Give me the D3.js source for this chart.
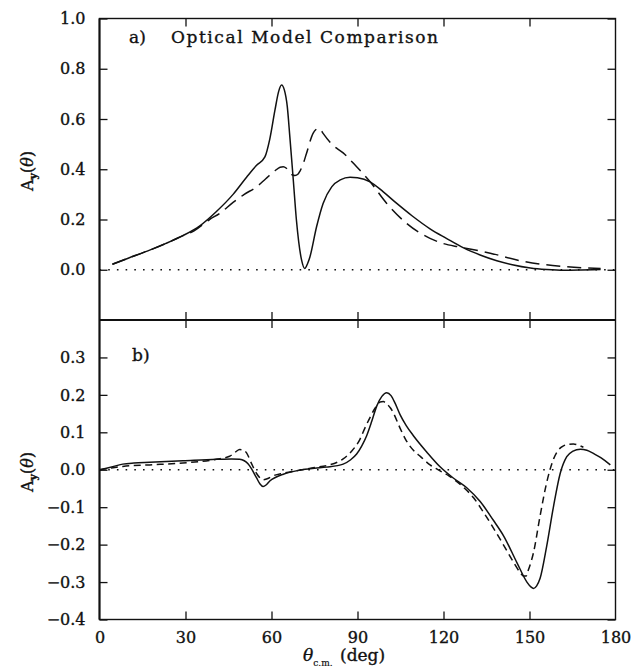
<!DOCTYPE html>
<html><head><meta charset="utf-8">
<script src="https://cdn.jsdelivr.net/npm/d3@7"></script>
<style>
html,body{margin:0;padding:0;background:#fff;}
svg text{font-family:"DejaVu Serif","Liberation Serif",serif;fill:#111;stroke:#111;stroke-width:0.35px;}
</style></head>
<body><svg id="c" width="635" height="669"></svg>
<script>
// ---------- data ----------
const xTicks = [0, 30, 60, 90, 120, 150, 180];
const topYTicks = [1.0, 0.8, 0.6, 0.4, 0.2, 0.0];
const botYTicks = [0.3, 0.2, 0.1, 0.0, -0.1, -0.2, -0.3, -0.4];

// panel a) solid
const aSolidTheta = [4.5,10,17.5,23,29.1,35,40.8,46.6,51.3,54.8,57.7,59.4,61.2,62.5,63.5,64.5,65.5,66.4,67.6,68.7,70.5,71.6,72.6,73.4,75.7,78,81,84,87.4,90,94.4,99,103.7,109,115.3,121,127,133,138.6,144,150.3,156,162,168,174.8];
const aSolidAy    = [0.022,0.046,0.078,0.104,0.136,0.175,0.232,0.3,0.368,0.416,0.449,0.52,0.635,0.71,0.735,0.715,0.65,0.529,0.357,0.197,0.038,0.005,0.025,0.051,0.17,0.264,0.33,0.358,0.368,0.366,0.35,0.31,0.264,0.215,0.163,0.125,0.087,0.058,0.036,0.02,0.007,0.001,-0.002,-0.001,0.001];
// panel a) dashed
const aDashTheta = [4.5,10,17.5,23,29.1,33,38.4,42,46.6,50.5,54.8,58,61.2,63,64.1,65.2,66.3,67.2,68.2,69.2,69.9,71,72.2,74.5,75.5,76.3,77.2,78,81,85,89.7,94.4,100.2,107.2,115.3,120,125.8,136.3,148,162,174.8];
const aDashAy    = [0.022,0.046,0.078,0.104,0.136,0.155,0.2,0.225,0.268,0.3,0.33,0.362,0.394,0.408,0.41,0.404,0.39,0.378,0.375,0.38,0.392,0.42,0.463,0.543,0.558,0.563,0.556,0.543,0.5,0.465,0.41,0.35,0.264,0.184,0.125,0.104,0.09,0.066,0.033,0.013,0.005];
// panel b) solid
const bSolidTheta = [0,3.5,8.1,12,17.5,29.1,40.8,46,48.9,50.5,51.8,53,54.8,56,57.1,58.2,59.4,61.5,64.1,69.9,75,79.2,85,87.5,89.7,91.5,93.2,95,96.7,98.5,100.2,101.7,103.1,104.8,107,109.5,114.2,118.8,123.4,128.1,132.8,137.4,141,145.6,149.1,150.5,151.4,152.5,153.7,156,158.4,160.7,163,165,167.8,170,172.4,175,178.2];
const bSolidAy    = [0,0.006,0.015,0.018,0.02,0.024,0.028,0.029,0.028,0.024,0.016,0.003,-0.022,-0.038,-0.045,-0.04,-0.03,-0.02,-0.012,-0.001,0.004,0.007,0.015,0.026,0.042,0.064,0.091,0.13,0.17,0.196,0.206,0.198,0.178,0.148,0.118,0.091,0.047,0.008,-0.022,-0.048,-0.085,-0.135,-0.177,-0.248,-0.3,-0.313,-0.317,-0.31,-0.29,-0.204,-0.097,-0.01,0.035,0.049,0.055,0.052,0.043,0.032,0.013];
// panel b) dashed
const bDashTheta = [0,3.5,8.1,17.5,29.1,40.8,45.4,47.5,48.9,50,51.3,53,54.8,56,57.1,58.5,60.6,64.1,69.9,75,79.2,85,88,90.9,92.5,94.4,96,97.9,99,100.2,101.5,102.5,104.8,107,109.5,112,115.3,118.8,122,127,130.5,134,139.8,144.5,146.5,148,148.8,149.5,151.4,153.7,156,158.4,160,161.9,163.5,165.3,167,168.8];
const bDashAy    = [0,0.004,0.009,0.013,0.018,0.028,0.036,0.048,0.054,0.053,0.045,0.017,-0.01,-0.022,-0.027,-0.024,-0.016,-0.009,-0.001,0.006,0.011,0.029,0.05,0.082,0.11,0.14,0.163,0.181,0.182,0.176,0.165,0.152,0.112,0.078,0.052,0.035,0.013,-0.003,-0.017,-0.047,-0.075,-0.114,-0.186,-0.248,-0.272,-0.284,-0.284,-0.27,-0.221,-0.123,-0.034,0.029,0.052,0.064,0.068,0.069,0.066,0.06];

// ---------- layout ----------
const svg = d3.select("#c");
const L = 99.5, R = 615.5, T = 18.5, M = 320, B = 619.5;
const x = d3.scaleLinear().domain([0,180]).range([L,R]);
const yA = d3.scaleLinear().domain([-0.2,1.0]).range([M,T]);
const yB = d3.scaleLinear().domain([-0.4,0.4]).range([B,M]);
const fmt = v => (v < 0 ? "\u2212" : "") + Math.abs(v).toFixed(1);
const stroke = "#111";

function styleAxis(g, showText){
  g.select(".domain").remove();
  g.selectAll(".tick line").attr("stroke",stroke).attr("stroke-width",1.3);
  g.selectAll(".tick text").style("font-size","16px").attr("fill","#111");
  if(!showText) g.selectAll(".tick text").remove();
}

// y axes panel a
svg.append("g").attr("transform",`translate(${L},0)`)
  .call(d3.axisLeft(yA).tickValues(topYTicks).tickSizeInner(-8).tickSizeOuter(0).tickPadding(14).tickFormat(fmt))
  .call(g=>styleAxis(g,true));
svg.append("g").attr("transform",`translate(${R},0)`)
  .call(d3.axisRight(yA).tickValues(topYTicks).tickSizeInner(-8).tickSizeOuter(0))
  .call(g=>styleAxis(g,false));
// y axes panel b
svg.append("g").attr("transform",`translate(${L},0)`)
  .call(d3.axisLeft(yB).tickValues(botYTicks).tickSizeInner(-8).tickSizeOuter(0).tickPadding(14).tickFormat(fmt))
  .call(g=>styleAxis(g,true));
svg.append("g").attr("transform",`translate(${R},0)`)
  .call(d3.axisRight(yB).tickValues(botYTicks).tickSizeInner(-8).tickSizeOuter(0))
  .call(g=>styleAxis(g,false));

// x axes
const inner = xTicks.slice(1,-1);
svg.append("g").attr("transform",`translate(0,${B})`)
  .call(d3.axisBottom(x).tickValues(xTicks).tickSizeInner(-8).tickSizeOuter(0).tickPadding(12).tickFormat(d3.format("d")))
  .call(g=>styleAxis(g,true))
  .call(g=>g.selectAll(".tick").filter(d=>d===0||d===180).select("line").remove());
svg.append("g").attr("transform",`translate(0,${T})`)
  .call(d3.axisTop(x).tickValues(inner).tickSizeInner(-8).tickSizeOuter(0))
  .call(g=>styleAxis(g,false));
svg.append("g").attr("transform",`translate(0,${M})`)
  .call(d3.axisBottom(x).tickValues(inner).tickSizeInner(8).tickSizeOuter(0))
  .call(g=>styleAxis(g,false));
svg.append("g").attr("transform",`translate(0,${M})`)
  .call(d3.axisTop(x).tickValues(inner).tickSizeInner(8).tickSizeOuter(0))
  .call(g=>styleAxis(g,false));

// frame
svg.append("rect").attr("x",L).attr("y",T).attr("width",R-L).attr("height",B-T)
  .attr("fill","none").attr("stroke",stroke).attr("stroke-width",1.4);
svg.append("line").attr("x1",L).attr("x2",L).attr("y1",T).attr("y2",B).attr("stroke",stroke).attr("stroke-width",2);
svg.append("line").attr("x1",L).attr("x2",R).attr("y1",M).attr("y2",M).attr("stroke",stroke).attr("stroke-width",2);

// zero lines (dotted)
[yA, yB].forEach(ys=>{
  svg.append("line").attr("x1",x(0)).attr("x2",x(180)).attr("y1",ys(0)).attr("y2",ys(0))
    .attr("stroke",stroke).attr("stroke-width",1.6).attr("stroke-dasharray","1.6,7.1");
});

// curves
function curve(thetas, vals, ys, dash){
  const pts = thetas.map((t,i)=>[t,vals[i]]);
  const line = d3.line().x(d=>x(d[0])).y(d=>ys(d[1])).curve(d3.curveMonotoneX);
  svg.append("path").datum(pts).attr("d",line).attr("fill","none")
    .attr("stroke",stroke).attr("stroke-width",1.5)
    .attr("stroke-dasharray",dash||null).attr("stroke-linejoin","round");
}
curve(aSolidTheta,aSolidAy,yA,null);
curve(aDashTheta,aDashAy,yA,"14,7");
curve(bSolidTheta,bSolidAy,yB,null);
curve(bDashTheta,bDashAy,yB,"7,4.5");

// panel labels
svg.append("text").attr("x",129).attr("y",43).style("font-size","17px").text("a)");
svg.append("text").attr("x",171).attr("y",43).style("font-size","17px")
  .attr("textLength",267).attr("lengthAdjust","spacing").text("Optical Model Comparison");
svg.append("text").attr("x",132).attr("y",361).style("font-size","17px").text("b)");

// y axis titles
function yTitle(cy){
  const t = svg.append("text").attr("transform",`translate(33,${cy}) rotate(-90)`)
    .attr("text-anchor","middle").style("font-size","16px");
  t.append("tspan").text("A");
  t.append("tspan").attr("dy",4).style("font-size","11px").style("font-weight","bold").text("y");
  t.append("tspan").attr("dy",-4).text("(");
  t.append("tspan").style("font-style","italic").text("\u03B8");
  t.append("tspan").text(")");
}
yTitle(171);
yTitle(472);

// x axis title
const xt = svg.append("text").attr("x",303).attr("y",661).style("font-size","17px");
xt.append("tspan").style("font-style","italic").text("\u03B8");
xt.append("tspan").attr("dy",5).style("font-size","9px").style("stroke-width","0.2px").text("c.m.");
svg.append("text").attr("x",340).attr("y",661).style("font-size","17px").text("(deg)");
</script></body></html>
